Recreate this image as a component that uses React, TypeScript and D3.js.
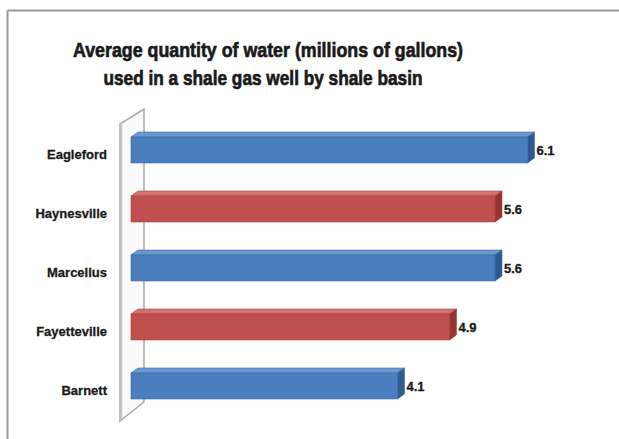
import React from "react";
import * as d3 from "d3";

const categories = ["Eagleford", "Haynesville", "Marcellus", "Fayetteville", "Barnett"];
const values = [6.1, 5.6, 5.6, 4.9, 4.1];
const seriesColors = ["blue", "red", "blue", "red", "blue"];
const titleLines = ["Average quantity of water (millions of gallons)", "used in a shale gas well by shale basin"];

const palette: Record<string, { front: string; top: string; side: string; edge: string }> = {
  blue: { front: "#4a7ebf", top: "#6c98d2", side: "#2e5a94", edge: "#3a6aa6" },
  red: { front: "#c0504d", top: "#d4726f", side: "#943532", edge: "#a8403d" },
};

export default function App() {
  const W = 619, H = 439;
  const x = d3.scaleLinear().domain([0, 7]).range([131, 586]);
  const y = d3.scaleBand<string>().domain(categories).range([120.5, 415.5]).padding(0);
  const barH = y.bandwidth() * 0.44;
  const dx = 7, dy = -5;
  const font = "'Liberation Sans', Arial, sans-serif";

  const wallFrontX = 120, wallBackX = 144;
  const wallTop = 109, wallBottom = 402;

  return (
    <svg width={W} height={H} style={{ position: "absolute", left: 0, top: 0, background: "#fff" }}>
      <rect x={0} y={0} width={W} height={H} fill="#fff" />
      {/* outer frame (cut off at right and bottom) */}
      <line x1={7.5} y1={10.5} x2={W} y2={10.5} stroke="#9a9a9a" strokeWidth={2} />
      <line x1={7.5} y1={10.5} x2={7.5} y2={H} stroke="#9a9a9a" strokeWidth={2} />

      {/* title */}
      {titleLines.map((t, i) => (
        <text
          key={i}
          x={i === 0 ? 268 : 263}
          y={i === 0 ? 57 : 85}
          textAnchor="middle"
          fontFamily={font}
          fontWeight="bold"
          fontSize={21}
          fill="#1a1a1a"
          stroke="#1a1a1a"
          strokeWidth={0.7}
          textLength={i === 0 ? 390 : 319}
          lengthAdjust="spacingAndGlyphs"
        >
          {t}
        </text>
      ))}

      {/* 3D wall */}
      <path
        d={`M${wallFrontX},${wallTop + 15} L${wallBackX},${wallTop} L${wallBackX},${wallBottom} L${wallFrontX},${wallBottom + 19} Z`}
        fill="#fafafa"
        stroke="#a8a8a8"
        strokeWidth={1.5}
      />
      <line x1={wallFrontX + 1.5} y1={wallTop + 14} x2={wallFrontX + 1.5} y2={wallBottom + 18} stroke="#c8c8c8" strokeWidth={1.5} />

      {/* bars */}
      {categories.map((c, i) => {
        const col = palette[seriesColors[i]];
        const y0 = (y(c) as number) + (y.bandwidth() - barH) / 2;
        const x0 = x(0);
        const x1 = x(values[i]);
        return (
          <g key={c}>
            <path
              d={`M${x0},${y0} L${x0 + dx},${y0 + dy} L${x1 + dx},${y0 + dy} L${x1},${y0} Z`}
              fill={col.top}
              stroke={col.edge}
              strokeWidth={0.6}
            />
            <path
              d={`M${x1},${y0} L${x1 + dx},${y0 + dy} L${x1 + dx},${y0 + barH + dy} L${x1},${y0 + barH} Z`}
              fill={col.side}
              stroke={col.edge}
              strokeWidth={0.6}
            />
            <rect x={x0} y={y0} width={x1 - x0} height={barH} fill={col.front} stroke={col.edge} strokeWidth={0.6} />
            <text
              x={x1 + dx + 2}
              y={y0 + barH / 2 + 2}
              dominantBaseline="middle"
              fontFamily={font}
              fontWeight="bold"
              fontSize={13}
              fill="#1a1a1a"
              stroke="#1a1a1a"
              strokeWidth={0.3}
            >
              {values[i].toFixed(1)}
            </text>
            <text
              x={107}
              y={(y(c) as number) + y.bandwidth() / 2 + 6}
              dominantBaseline="middle"
              textAnchor="end"
              fontFamily={font}
              fontWeight="bold"
              fontSize={13}
              fill="#1a1a1a"
              stroke="#1a1a1a"
              strokeWidth={0.3}
            >
              {c}
            </text>
          </g>
        );
      })}
    </svg>
  );
}
